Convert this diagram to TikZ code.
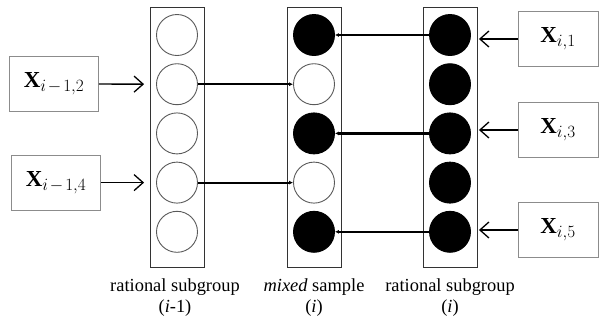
\documentclass[tikz,border=0pt]{standalone}
\usepackage{fontspec}
\setmainfont{Liberation Serif}
\DeclareMathSizes{23}{23}{17}{12}
\usetikzlibrary{arrows.meta}
\tikzset{
	col/.style={draw=black!80, line width=0.9bp, minimum width=54bp, minimum height=260bp, inner sep=0pt},
	ball/.style={circle, draw=black!65, line width=0.9bp, minimum size=41bp, inner sep=0pt},
	fullball/.style={ball, draw=black, fill=black},
	xbox/.style={draw=black!45, line width=0.9bp, minimum height=55bp, inner sep=0pt, font=\fontsize{23}{27}\selectfont},
	feed/.style={line width=1.4bp, -{Straight Barb[length=9bp, width=16bp, line width=1.3bp]}},
	link/.style={line width=2.2bp, -{Latex[length=4bp, width=4bp]}},
	caption/.style={align=center, font=\fontsize{18.5}{21}\selectfont}
}
\begin{document}
\begin{tikzpicture}[x=1bp, y=-1bp]
		\useasboundingbox (0,0) rectangle (600,322);
		\clip (0,0) rectangle (600,322);
		% columns
		\node[col] (prev) at (177,137) {};
		\node[col] (mix) at (314,137) {};
		\node[col] (cur) at (450,137) {};
		\def \dy{49.2} % circle spacing
		\foreach \k in {1,...,5} {
			\node[ball] (a\k) at (177, 35+\dy*\k-\dy) {};
			\node[fullball] (c\k) at (450, 35+\dy*\k-\dy) {};
		}
		\foreach \k/\s in {1/fullball,2/ball,3/fullball,4/ball,5/fullball}
			\node[\s] (b\k) at (314, 35+\dy*\k-\dy) {};
		
		% observations
		\node[xbox, minimum width=89bp] (l2) at (54,84) {$\mathbf{X}_{i\mskip2mu-\mskip2mu1,2}$};
		\node[xbox, minimum width=89bp] (l4) at (56,183) {$\mathbf{X}_{i\mskip2mu-\mskip2mu1,4}$};
		\node[xbox, minimum width=80bp] (r1) at (558,39) {$\mathbf{X}_{i,1}$};
		\node[xbox, minimum width=80bp] (r3) at (558,130) {$\mathbf{X}_{i,3}$};
		\node[xbox, minimum width=80bp] (r5) at (558,230) {$\mathbf{X}_{i,5}$};
		\draw[feed, shorten >=12bp] (l2.east) -- (a2.west);
		\draw[feed, shorten >=12bp] (l4.east |- a4) -- (a4.west);
		\draw[feed] (r1.west) -- ([xshift=8bp]r1.west -| c1.east);
		\draw[feed] (r3.west) -- ([xshift=8bp]r3.west -| c3.east);
		\draw[feed] (r5.west) -- ([xshift=8bp]r5.west -| c5.east);
		
		% mixing
		\draw[link] (a2.east) -- (b2.west);
		\draw[link] (a4.east) -- (b4.west);
		\draw[link] (c1.west) -- (b1.east);
		\draw[link] (c3.west) -- (b3.east);
		\draw[link] (c5.west) -- (b5.east);
		
		% captions
		\node[caption] (tprev) at (175,298) {rational subgroup\\(\textit{i}-1)};
		\node[caption] (tmix) at (314,298) {\textit{mixed} sample\\(\textit{i})};
		\node[caption] (tcur) at (450,298) {rational subgroup\\(\textit{i})};
	\end{tikzpicture}
\end{document}
